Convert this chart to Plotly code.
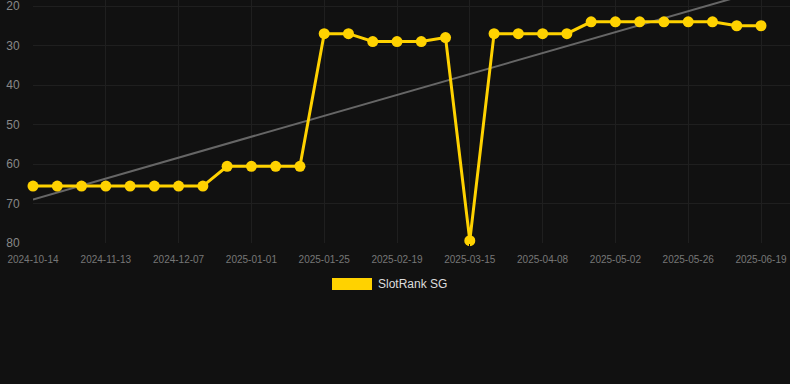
import numpy as np
import plotly.graph_objects as go

dates = [
    "2024-10-14", "2024-10-24", "2024-11-03", "2024-11-13", "2024-11-21", "2024-11-29",
    "2024-12-07", "2024-12-15", "2024-12-23", "2025-01-01", "2025-01-09", "2025-01-17",
    "2025-01-25", "2025-02-02", "2025-02-10", "2025-02-19", "2025-02-27", "2025-03-07",
    "2025-03-15", "2025-03-23", "2025-03-31", "2025-04-08", "2025-04-16", "2025-04-24",
    "2025-05-02", "2025-05-10", "2025-05-18", "2025-05-26", "2025-06-03", "2025-06-11",
    "2025-06-19",
]
rank = [
    65.6, 65.6, 65.6, 65.6, 65.6, 65.6, 65.6, 65.6,
    60.6, 60.6, 60.6, 60.6,
    27, 27, 29, 29, 29, 28,
    79.4,
    27, 27, 27, 27,
    24, 24, 24, 24, 24, 24,
    25, 25,
]
tick_labels = dates[::3]
series_name = "SlotRank SG"

W, H = 790, 384
ML, MR, MT, MB = 33, 0, 0, 141
plot_w = W - ML - MR
plot_h = H - MT - MB

idx = np.arange(len(rank))
slope, icpt = np.polyfit(idx, rank, 1)
trend = slope * idx + icpt

bg = "#111111"
grid = "#1f1f1f"
gold = "#FFD200"

fig = go.Figure()
fig.add_trace(go.Scatter(
    x=dates, y=trend, mode="lines",
    line=dict(color="#666666", width=2), showlegend=False, hoverinfo="skip",
))
fig.add_trace(go.Scatter(
    x=dates, y=rank, mode="lines+markers", name=series_name,
    line=dict(color=gold, width=3), marker=dict(color=gold, size=11),
    showlegend=False, cliponaxis=False,
))

# legend drawn as box + label below the plot
lx0, lx1, ly0, ly1 = 332, 372, 278, 290
def px(xp):
    return (xp - ML) / plot_w
def py(yp):
    return (MT + plot_h - yp) / plot_h
fig.add_shape(type="rect", xref="paper", yref="paper",
              x0=px(lx0), x1=px(lx1), y0=py(ly1), y1=py(ly0),
              fillcolor=gold, line=dict(width=0))
fig.add_annotation(xref="paper", yref="paper", x=px(376), y=py(284),
                   xanchor="left", yanchor="middle", showarrow=False,
                   text=series_name, font=dict(size=12, color="#dddddd",
                                               family="Liberation Sans, Arial, sans-serif"))

px_per_unit = (243 - 6) / 60.0
fig.update_layout(
    width=W, height=H,
    margin=dict(l=ML, r=MR, t=MT, b=MB, pad=0),
    paper_bgcolor=bg, plot_bgcolor=bg,
    font=dict(family="Liberation Sans, Arial, sans-serif"),
    xaxis=dict(
        type="category", range=[0, plot_w / ((761 - 33) / 30.0)],
        tickmode="array", tickvals=tick_labels, ticktext=tick_labels,
        showgrid=True, gridcolor=grid, zeroline=False, showline=False,
        ticks="outside", ticklen=7, tickcolor=bg,
        tickfont=dict(size=10, color="#777777"),
        ticklabeloverflow="allow",
    ),
    yaxis=dict(
        range=[80, 20 - 6 / px_per_unit],
        tickvals=[20, 30, 40, 50, 60, 70, 80],
        showgrid=True, gridcolor=grid, zeroline=False, showline=False,
        ticks="outside", ticklen=10, tickcolor=bg,
        tickfont=dict(size=12, color="#888888"),
        ticklabeloverflow="allow",
    ),
)

fig.write_html("out.html", config={"displayModeBar": False},
               post_script="document.body.style.margin='0';document.body.style.overflow='hidden';")
